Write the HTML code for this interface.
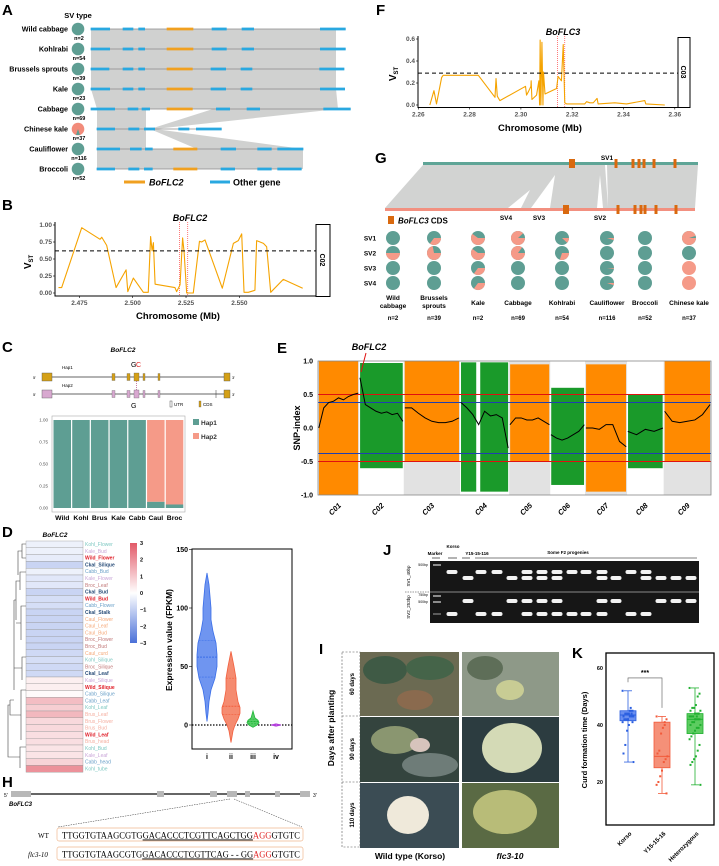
<!DOCTYPE html>
<html><head><meta charset="utf-8">
<style>
html,body{margin:0;padding:0;background:#fff;}
svg{display:block;font-family:"Liberation Sans",sans-serif;}
.pl{font-size:15px;font-weight:bold;}
.tk{font-size:6px;fill:#444;}
.b{font-weight:bold;}
</style></head><body>
<svg id="fig" width="719" height="866" viewBox="0 0 719 866" xmlns="http://www.w3.org/2000/svg">
<!-- panel letters -->
<text class="pl" x="2" y="15">A</text>
<text class="pl" x="2" y="210">B</text>
<text class="pl" x="2" y="352">C</text>
<text class="pl" x="2" y="537">D</text>
<text class="pl" x="277" y="353">E</text>
<text class="pl" x="376" y="15">F</text>
<text class="pl" x="375" y="163">G</text>
<text class="pl" x="2" y="787">H</text>
<text class="pl" x="319" y="654">I</text>
<text class="pl" x="383" y="555">J</text>
<text class="pl" x="572" y="658">K</text>

<!-- A static -->
<text x="78" y="18" font-size="7.5" font-weight="bold" text-anchor="middle">SV type</text>
<g>
<line x1="124" y1="182" x2="145" y2="182" stroke="#f0a020" stroke-width="3"/>
<text x="149" y="185.5" font-size="9" font-weight="bold" font-style="italic">BoFLC2</text>
<line x1="210" y1="182" x2="230" y2="182" stroke="#29a8e0" stroke-width="3"/>
<text x="233" y="185.5" font-size="9" font-weight="bold">Other gene</text>
</g>

<!-- B static -->
<text x="190" y="221" font-size="9" font-weight="bold" font-style="italic" text-anchor="middle">BoFLC2</text>
<text x="178" y="319" font-size="9.5" font-weight="bold" text-anchor="middle">Chromosome (Mb)</text>
<text transform="translate(31,262) rotate(-90)" font-size="10" font-weight="bold" text-anchor="middle">V<tspan font-size="6" dy="2">ST</tspan></text>
<rect x="316" y="224.5" width="14" height="72" fill="#fff" stroke="#000" stroke-width="1"/>
<text transform="translate(320,260) rotate(90)" font-size="7" font-weight="bold" text-anchor="middle">C02</text>

<!-- F static -->
<text x="563" y="35" font-size="9" font-weight="bold" font-style="italic" text-anchor="middle">BoFLC3</text>
<text x="540" y="131" font-size="9.5" font-weight="bold" text-anchor="middle">Chromosome (Mb)</text>
<text transform="translate(396,74) rotate(-90)" font-size="10" font-weight="bold" text-anchor="middle">V<tspan font-size="6" dy="2">ST</tspan></text>
<rect x="678" y="37.5" width="12" height="70" fill="#fff" stroke="#000" stroke-width="1"/>
<text transform="translate(681,72) rotate(90)" font-size="7" font-weight="bold" text-anchor="middle">C03</text>

<!-- G static -->
<g>
<polygon points="423,165 698,165 695,208 385,208" fill="#d2d3d2"/>
<polygon points="508,208 521,208 530,190" fill="#fff"/>
<polygon points="531,208 550,208 555,175" fill="#fff"/>
<polygon points="597,208 603,208 600,175" fill="#fff"/>
<polygon points="605,165 607,165 608,207" fill="#fff"/>
<line x1="423" y1="163.5" x2="698" y2="163.5" stroke="#5fa597" stroke-width="3"/>
<line x1="385" y1="209.5" x2="695" y2="209.5" stroke="#f29080" stroke-width="3"/>
</g>
<text x="607" y="160" font-size="6.5" font-weight="bold" text-anchor="middle">SV1</text>
<text x="506" y="220" font-size="6.5" font-weight="bold" text-anchor="middle">SV4</text>
<text x="539" y="220" font-size="6.5" font-weight="bold" text-anchor="middle">SV3</text>
<text x="600" y="220" font-size="6.5" font-weight="bold" text-anchor="middle">SV2</text>
<rect x="388" y="216" width="6" height="8" fill="#d9690f"/>
<text x="398" y="223.5" font-size="8" font-weight="bold"><tspan font-style="italic">BoFLC3</tspan>  CDS</text>

<!-- C static -->
<text x="123" y="352" font-size="6.5" font-weight="bold" font-style="italic" text-anchor="middle">BoFLC2</text>
<g>
<text x="62" y="369" font-size="4.5">Hap1</text>
<text x="33" y="379" font-size="4">5'</text>
<line x1="42" y1="377" x2="230" y2="377" stroke="#333" stroke-width="0.8"/>
<rect x="42" y="373" width="10" height="8" fill="#d4a017" stroke="#555" stroke-width="0.4"/>
<rect x="112" y="373.5" width="3" height="7" fill="#d4a017" stroke="#555" stroke-width="0.3"/>
<rect x="127" y="373.5" width="3" height="7" fill="#d4a017" stroke="#555" stroke-width="0.3"/>
<rect x="134" y="373" width="5" height="8" fill="#d4a017" stroke="#555" stroke-width="0.3"/>
<rect x="143" y="373.5" width="2" height="7" fill="#d4a017" stroke="#555" stroke-width="0.3"/>
<rect x="158" y="373.5" width="2" height="7" fill="#d4a017" stroke="#555" stroke-width="0.3"/>
<rect x="224" y="373" width="6" height="8" fill="#d4a017" stroke="#555" stroke-width="0.4"/>
<text x="232" y="379" font-size="4">3'</text>
<text x="131" y="367" font-size="7">G</text><text x="136" y="367" font-size="7" fill="#e02020">C</text>
<text x="62" y="387" font-size="4.5">Hap2</text>
<text x="33" y="396" font-size="4">5'</text>
<line x1="42" y1="394" x2="230" y2="394" stroke="#333" stroke-width="0.8"/>
<rect x="42" y="390" width="10" height="8" fill="#d8a8d0" stroke="#555" stroke-width="0.4"/>
<rect x="112" y="390.5" width="3" height="7" fill="#d8a8d0" stroke="#555" stroke-width="0.3"/>
<rect x="127" y="390.5" width="3" height="7" fill="#d8a8d0" stroke="#555" stroke-width="0.3"/>
<rect x="134" y="390" width="5" height="8" fill="#d8a8d0" stroke="#555" stroke-width="0.3"/>
<rect x="143" y="390.5" width="2" height="7" fill="#d8a8d0" stroke="#555" stroke-width="0.3"/>
<rect x="158" y="390.5" width="2" height="7" fill="#d8a8d0" stroke="#555" stroke-width="0.3"/>
<line x1="216" y1="390" x2="216" y2="398" stroke="#333" stroke-width="0.5"/>
<rect x="224" y="390" width="6" height="8" fill="#d4a017" stroke="#555" stroke-width="0.4"/>
<text x="232" y="396" font-size="4">3'</text>
<line x1="136.5" y1="381" x2="136.5" y2="390" stroke="#a03070" stroke-width="0.6" stroke-dasharray="1,1"/>
<text x="131" y="408" font-size="7">G</text>
<rect x="170" y="401" width="2" height="6" fill="#fff" stroke="#555" stroke-width="0.5"/>
<text x="174" y="406" font-size="4.5">UTR</text>
<rect x="199" y="401" width="2" height="6" fill="#d4a017" stroke="#555" stroke-width="0.3"/>
<text x="203" y="406" font-size="4.5">CDS</text>
</g>
<rect x="193" y="419" width="6" height="6" fill="#5e9e93"/>
<text x="201" y="425" font-size="6.5" font-weight="bold" fill="#333">Hap1</text>
<rect x="193" y="433" width="6" height="6" fill="#f59a88"/>
<text x="201" y="439" font-size="6.5" font-weight="bold" fill="#333">Hap2</text>

<!-- D static -->
<text x="55" y="537" font-size="6.5" font-weight="bold" font-style="italic" text-anchor="middle">BoFLC2</text>
<text transform="translate(172,640) rotate(-90)" font-size="8.5" font-weight="bold" text-anchor="middle">Expression value (FPKM)</text>

<!-- E static -->
<text x="369" y="350" font-size="9" font-weight="bold" font-style="italic" text-anchor="middle">BoFLC2</text>
<text transform="translate(300,428) rotate(-90)" font-size="9" font-weight="bold" text-anchor="middle">SNP-index</text>

<!-- J static -->
<g font-size="4.5" font-weight="bold">
<text x="435" y="555" text-anchor="middle">Marker</text>
<text x="453" y="548" text-anchor="middle">Korso</text>
<text x="477" y="555" text-anchor="middle">Y15-15-116</text>
<text x="568" y="554" text-anchor="middle">Some F2 progenies</text>
<line x1="432" y1="558" x2="440" y2="558" stroke="#000" stroke-width="0.6"/>
<line x1="448" y1="558" x2="457" y2="558" stroke="#000" stroke-width="0.6"/>
<line x1="462" y1="558" x2="470" y2="558" stroke="#000" stroke-width="0.6"/>
<line x1="475" y1="558" x2="697" y2="558" stroke="#000" stroke-width="0.6"/>
</g>
<rect x="430" y="561" width="269" height="62" fill="#161616"/>
<line x1="405" y1="592" x2="430" y2="592" stroke="#333" stroke-width="0.5" stroke-dasharray="1.5,1"/>
<line x1="430" y1="592" x2="699" y2="592" stroke="#fff" stroke-width="0.6"/>
<text transform="translate(410,576) rotate(-90)" font-size="4.5" text-anchor="middle">SV1_40bp</text>
<text transform="translate(410,607) rotate(-90)" font-size="4.5" text-anchor="middle">SV2_253bp</text>
<text x="428" y="566" font-size="3.5" text-anchor="end">500bp</text>
<text x="428" y="596" font-size="3.5" text-anchor="end">750bp</text>
<text x="428" y="603" font-size="3.5" text-anchor="end">500bp</text>

<!-- I static -->
<g>
<rect x="342" y="652" width="18" height="195" fill="none" stroke="#555" stroke-width="0.6" stroke-dasharray="2,1.5"/>
<line x1="342" y1="716" x2="360" y2="716" stroke="#555" stroke-width="0.6" stroke-dasharray="2,1.5"/>
<line x1="342" y1="782" x2="360" y2="782" stroke="#555" stroke-width="0.6" stroke-dasharray="2,1.5"/>
<text transform="translate(334,728) rotate(-90)" font-size="8.5" font-weight="bold" text-anchor="middle">Days after planting</text>
<text transform="translate(354,684) rotate(-90)" font-size="6" font-weight="bold" text-anchor="middle">60 days</text>
<text transform="translate(354,749) rotate(-90)" font-size="6" font-weight="bold" text-anchor="middle">90 days</text>
<text transform="translate(354,815) rotate(-90)" font-size="6" font-weight="bold" text-anchor="middle">110 days</text>
<!-- left column -->
<rect x="360" y="652" width="99" height="64" fill="#6b6a52"/>
<ellipse cx="385" cy="670" rx="22" ry="14" fill="#3f5a45"/>
<ellipse cx="430" cy="668" rx="24" ry="12" fill="#456449"/>
<ellipse cx="415" cy="700" rx="18" ry="10" fill="#8a6a4e"/>
<rect x="360" y="717" width="99" height="65" fill="#34443e"/>
<ellipse cx="395" cy="740" rx="24" ry="14" fill="#8a9670"/>
<ellipse cx="420" cy="745" rx="10" ry="7" fill="#d7c4bc"/>
<ellipse cx="430" cy="765" rx="28" ry="12" fill="#6e7c78"/>
<rect x="360" y="783" width="99" height="65" fill="#3b4c54"/>
<ellipse cx="408" cy="815" rx="21" ry="19" fill="#efe9da"/>
<!-- right column -->
<rect x="462" y="652" width="97" height="64" fill="#8e9988"/>
<ellipse cx="510" cy="690" rx="14" ry="10" fill="#c8cc94"/>
<ellipse cx="485" cy="668" rx="18" ry="12" fill="#5e6e58"/>
<rect x="462" y="717" width="97" height="65" fill="#2c3c40"/>
<ellipse cx="512" cy="748" rx="30" ry="25" fill="#d4dab6"/>
<rect x="462" y="783" width="97" height="65" fill="#5a6a44"/>
<ellipse cx="505" cy="812" rx="32" ry="22" fill="#b8bc78"/>
<text x="410" y="859" font-size="8.5" font-weight="bold" text-anchor="middle">Wild type (Korso)</text>
<text x="510" y="859" font-size="8.5" font-weight="bold" font-style="italic" text-anchor="middle">flc3-10</text>
</g>

<!-- H static -->
<g>
<text x="4" y="797" font-size="5">5'</text>
<line x1="11" y1="794" x2="310" y2="794" stroke="#333" stroke-width="1.4"/>
<rect x="11" y="791" width="20" height="6" fill="#b8b8b8"/>
<rect x="157" y="791" width="7" height="6" fill="#b8b8b8"/>
<rect x="210" y="791" width="7" height="6" fill="#b8b8b8"/>
<rect x="227" y="791" width="10" height="6" fill="#b8b8b8"/>
<rect x="245" y="791" width="5" height="6" fill="#b8b8b8"/>
<rect x="275" y="791" width="5" height="6" fill="#b8b8b8"/>
<rect x="300" y="791" width="10" height="6" fill="#b8b8b8"/>
<text x="313" y="797" font-size="5">3'</text>
<text x="9" y="806" font-size="6" font-weight="bold" font-style="italic">BoFLC3</text>
<line x1="230" y1="799" x2="58" y2="827" stroke="#333" stroke-width="0.5" stroke-dasharray="1.5,1"/>
<line x1="234" y1="799" x2="302" y2="827" stroke="#333" stroke-width="0.5" stroke-dasharray="1.5,1"/>
<rect x="57" y="828" width="246" height="13" rx="2" fill="#fff" stroke="#f0b890" stroke-width="0.7"/>
<rect x="57" y="847" width="246" height="13" rx="2" fill="#fff" stroke="#f0b890" stroke-width="0.7"/>
<text x="38" y="838" font-size="7" font-family="Liberation Serif, serif">WT</text>
<text x="28" y="857" font-size="7" font-style="italic" font-family="Liberation Serif, serif">flc3-10</text>
<text x="62" y="838.5" font-size="9" font-family="Liberation Serif, serif" textLength="238" lengthAdjust="spacingAndGlyphs">TTGGTGTAAGCGTG<tspan text-decoration="underline">GACACCCTCGTTCAGCTGG</tspan><tspan fill="#e02020">AGG</tspan>GTGTC</text>
<text x="62" y="857.5" font-size="9" font-family="Liberation Serif, serif" textLength="238" lengthAdjust="spacingAndGlyphs">TTGGTGTAAGCGTG<tspan text-decoration="underline">GACACCCTCGTTCAG - - GG</tspan><tspan fill="#e02020">AGG</tspan>GTGTC</text>
</g>

<!-- K static -->
<text transform="translate(587,740) rotate(-90)" font-size="7.5" font-weight="bold" text-anchor="middle">Curd formation time (Days)</text>
</svg>

<script>
const NS='http://www.w3.org/2000/svg';
const svg=document.getElementById('fig');
function mk(tag,attrs,parent){const e=document.createElementNS(NS,tag);for(const k in attrs)e.setAttribute(k,attrs[k]);(parent||svg).appendChild(e);return e;}

/* ============ Panel A data ============ */
const speciesA=['Wild cabbage','Kohlrabi','Brussels sprouts','Kale','Cabbage','Chinese kale','Cauliflower','Broccoli'];
const nA=[2,54,39,23,69,37,116,52];
const svTypeA=[0,0,0,0,0,1,0,0];
const tracksA=[
 [[272,330,0],[368,400,0],[415,435,0],[500,580,1],[635,680,0],[725,762,0],[960,1037,0]],
 [[272,330,0],[368,400,0],[415,435,0],[500,580,1],[635,680,0],[725,762,0],[960,1037,0]],
 [[272,328,0],[368,400,0],[415,435,0],[500,578,1],[632,678,0],[722,757,0],[958,1033,0]],
 [[272,330,0],[368,400,0],[415,435,0],[500,578,1],[632,678,0],[722,757,0],[960,1035,0]],
 [[272,345,0],[383,415,0],[425,450,0],[500,578,1],[648,690,0],[740,780,0],[970,1052,0]],
 [[290,345,0],[385,418,0],[432,465,0],[535,568,0],[588,665,0]],
 [[290,360,0],[390,425,0],[435,458,0],[520,592,1],[662,708,0],[772,815,0],[832,910,0]],
 [[290,345,0],[385,418,0],[432,458,0],[520,592,1],[662,705,0],[772,815,0],[832,905,0]]
];
const gA=mk('g',{});


const rowY=i=>29+i*20;
const bandPolys=[
 [[91,29],[336,29],[336,49],[91,49]],[[91,49],[336,49],[336,69],[91,69]],[[91,69],[336,69],[336,89],[91,89]],
 [[91,89],[336,89],[338,109],[97,109]],
 [[97,109],[146,109],[146,129],[97,129]],[[213,109],[338,109],[155,129],[150,129]],
 [[97,129],[146,129],[146,149],[97,149]],[[150,129],[155,129],[303,149],[197,149]],
 [[97,149],[303,149],[303,169],[97,169]]
];
bandPolys.forEach(p=>{const e=mk('polygon',{points:p.map(q=>q.join(',')).join(' '),fill:'#d0d1d0'},gA);

});
speciesA.forEach((s,i)=>{
 const y=rowY(i);const tr=tracksA[i];
 const ln=mk('line',{x1:tr[0][0]/3,y1:y,x2:tr[tr.length-1][1]/3,y2:y,stroke:'#8a8a8a','stroke-width':0.8},gA);
 
 
 tr.forEach(g=>{const e=mk('line',{x1:g[0]/3,y1:y,x2:g[1]/3,y2:y,stroke:g[2]?'#f0a020':'#29a8e0','stroke-width':2.8},gA);
 
 });
 const t=mk('text',{x:68,y:y+2.5,'font-size':7.2,'font-weight':'bold','text-anchor':'end'},gA);t.textContent=s;
 
 
 if(svTypeA[i]===0){const c=mk('circle',{cx:78,cy:y,r:6.3,fill:'#5e9e93'},gA);
 
 }
 else{const c=mk('circle',{cx:78,cy:y,r:6.3,fill:'#f28b7a'},gA);
 
 
 const w=mk('path',{d:`M78,${y} L76,${y+6} L80,${y+6}Z`,fill:'#5e9e93'},gA);
 
 }
 const n=mk('text',{x:79,y:y+11,'font-size':5.5,'font-weight':'bold','text-anchor':'middle'},gA);n.textContent='n='+nA[i];
 
 
});

/* ============ Panel B / F line charts ============ */
const posB=[2.4652,2.4667,2.4761,2.4847,2.4855,2.4878,2.4922,2.4969,2.4977,2.5003,2.5050,2.5073,2.5084,2.5091,2.5097,2.5105,2.5198,2.5206,2.5222,2.5234,2.5241,2.5253,2.5284,2.5313,2.5323,2.5339,2.5420,2.5472,2.5495,2.5511,2.5522,2.5542,2.5573,2.5581,2.5613,2.5628,2.5647,2.5706,2.5797];
const vstB=[0.08,0.08,0.96,0.79,0.82,0.70,0.08,0.34,0.02,0.22,0.01,0.01,0.83,0.62,0.74,0.13,0.08,0.02,0.12,0.81,0.60,0.0,0.0,0.76,0.75,0.78,0.07,0.73,0.77,0.87,0.01,0.01,0.04,0.77,0.73,0.68,0.01,0.20,0.07];
const ticksB=[2.475,2.500,2.525,2.550];
const yTicksB=[0,0.25,0.5,0.75,1.0];
const thrB=0.62;
const geneB=[2.5219,2.5258];

const posF=[2.2645,2.2661,2.2671,2.2691,2.2697,2.2834,2.2899,2.2903,2.2908,2.2918,2.3018,2.3022,2.3029,2.3039,2.3040,2.3043,2.3061,2.3070,2.3073,2.3075,2.3078,2.3082,2.3086,2.3088,2.3094,2.3139,2.3145,2.3158,2.3165,2.3171,2.3178,2.3249,2.3256,2.3269,2.3282,2.3297,2.3301,2.3366,2.3412,2.3483,2.3487,2.3561];
const vstF=[0,0.13,0.01,0.25,0.27,0.27,0.07,0.24,0.08,0.04,0.17,0.09,0.12,0.17,0.22,0.05,0.09,0.22,0.0,0.59,0.0,0.57,0.0,0.30,0.10,0.15,0.26,0.22,0.55,0.02,0.01,0.01,0.03,0.02,0.02,0.06,0.01,0.02,0.01,0.04,0.01,0.0];
const ticksF=[2.26,2.28,2.30,2.32,2.34,2.36];
const yTicksF=[0,0.2,0.4,0.6];
const thrF=0.29;
const geneF=[2.3143,2.3171];

function lineChart(o){
 const g=mk('g',{});
 
 
 const ax=mk('path',{d:`M${o.x0},${o.yTop-3} V${o.yAxis} H${o.x1}`,fill:'none',stroke:'#000','stroke-width':1},g);
 
 
 o.yt.forEach(v=>{const y=o.ys(v);
  const tl=mk('line',{x1:o.x0-2,y1:y,x2:o.x0,y2:y,stroke:'#000','stroke-width':0.6},g);
  
  
  const t=mk('text',{x:o.x0-3,y:y+2,'text-anchor':'end','font-size':6.5,'font-weight':'bold',fill:'#555'},g);t.textContent=o.yfmt(v);
  
  });
 o.xt.forEach(v=>{const x=o.xs(v);
  const tl=mk('line',{x1:x,y1:o.yAxis,x2:x,y2:o.yAxis+2,stroke:'#000','stroke-width':0.6},g);
  
  
  const t=mk('text',{x:x,y:o.yAxis+9,'text-anchor':'middle','font-size':6.5,'font-weight':'bold',fill:'#555'},g);t.textContent=o.xfmt(v);
  
  });
 o.gene.forEach(v=>{const l=mk('line',{x1:o.xs(v),y1:o.yTop-3,x2:o.xs(v),y2:o.yAxis,stroke:'#ff4040','stroke-width':0.7,'stroke-dasharray':'1,1'},g);
  
  });
 const d=o.px.map((p,i)=>(i?'L':'M')+o.xs(p).toFixed(2)+','+o.ys(o.py[i]).toFixed(2)).join(' ');
 const pl=mk('path',{d:d,fill:'none',stroke:'#f5a300','stroke-width':1.1,'stroke-linejoin':'round'},g);
 
 
 const th=mk('line',{x1:o.x0,y1:o.ys(o.thr),x2:o.x1,y2:o.ys(o.thr),stroke:'#000','stroke-width':1,'stroke-dasharray':'4,3'},g);
 
 
}
lineChart({name:'panel-b-vst-chart',x0:55,x1:316,yTop:225,yAxis:296,xs:v=>132.7+(v-2.5)*2133,ys:v=>293-v*68,
 xt:ticksB,yt:yTicksB,xfmt:v=>v.toFixed(3),yfmt:v=>v.toFixed(2),px:posB,py:vstB,thr:thrB,gene:geneB});
lineChart({name:'panel-f-vst-chart',x0:418,x1:678,yTop:39,yAxis:107.5,xs:v=>418.3+(v-2.26)/0.02*51.3,ys:v=>105-v*110,
 xt:ticksF,yt:yTicksF,xfmt:v=>v.toFixed(2),yfmt:v=>v.toFixed(1),px:posF,py:vstF,thr:thrF,gene:geneF});

/* ============ Panel G data ============ */
const speciesG=['Wild\ncabbage','Brussels\nsprouts','Kale','Cabbage','Kohlrabi','Cauliflower','Broccoli','Chinese kale'];
const nG=[2,39,2,69,54,116,52,37];
const sv1Hap2=[0,0.35,0.6,0.88,0.12,0.05,0,0.95];
const sv2Hap2=[0.5,0.72,0.6,0.85,0.3,0,0,0];
const sv3Hap2=[0,0,0.35,0,0,0.02,0,1];
const sv4Hap2=[0,0,0.35,0,0,0.05,0,1];
const cdsTop=[572,616,633,639,644,654,675];
const cdsBot=[566,618,635,641,645,656,676];
const gG=mk('g',{});


cdsTop.forEach((x,i)=>{const r=mk('rect',{x:x-(i===0?3:1.5),y:159,width:i===0?6:3,height:9,fill:'#d9690f'},gG);
 
 });
cdsBot.forEach((x,i)=>{const r=mk('rect',{x:x-(i===0?3:1.5),y:205,width:i===0?6:3,height:9,fill:'#d9690f'},gG);
 
 });
const colX=[393,434,478,518,562,607,645,689];
const pieRows=[sv1Hap2,sv2Hap2,sv3Hap2,sv4Hap2];
const pieY=[238,253,268,283];
pieRows.forEach((row,ri)=>{
 const lt=mk('text',{x:370,y:pieY[ri]+2.5,'font-size':6.5,'font-weight':'bold','text-anchor':'middle'},gG);lt.textContent='SV'+(ri+1);
 
 
 row.forEach((f,ci)=>{const cx=colX[ci],cy=pieY[ri],r=7;
  const base=mk('circle',{cx:cx,cy:cy,r:r,fill:f>=1?'#f59a88':'#5e9e93'},gG);
  
  
  if(f>0&&f<1){const a=f*2*Math.PI;const x2=cx+r*Math.cos(a),y2=cy+r*Math.sin(a);
   const w=mk('path',{d:`M${cx},${cy} L${cx+r},${cy} A${r},${r} 0 ${f>0.5?1:0} 1 ${x2.toFixed(2)},${y2.toFixed(2)} Z`,fill:'#f59a88'},gG);
   
   }
 });
});
speciesG.forEach((s,i)=>{const parts=s.split('\n');
 parts.forEach((p,k)=>{const t=mk('text',{x:colX[i],y:parts.length>1?300+k*8:305,'font-size':6.5,'font-weight':'bold','text-anchor':'middle'},gG);t.textContent=p;
  
  });
 const n=mk('text',{x:colX[i],y:320,'font-size':6,'font-weight':'bold','text-anchor':'middle'},gG);n.textContent='n='+nG[i];
 
 });

/* ============ Panel C stacked bars ============ */
const catsC=['Wild','Kohl','Brus','Kale','Cabb','Caul','Broc'];
const hap1C=[1,1,1,1,1,0.07,0.04];
const yTicksC=[0,0.25,0.5,0.75,1.0];
const gC=mk('g',{});


const yC=v=>508-v*88;
const bgC=mk('rect',{x:52,y:416,width:133,height:96,fill:'#fff',stroke:'#aaa','stroke-width':0.6},gC);


yTicksC.forEach(v=>{const t=mk('text',{x:48,y:yC(v)+1.5,'font-size':4.5,'text-anchor':'end',fill:'#555'},gC);t.textContent=v.toFixed(2);
 
 });
const bwC=131/7;
catsC.forEach((c,i)=>{const x=53+i*bwC+0.5;
 const r2=mk('rect',{x:x,y:yC(1),width:bwC-1.2,height:yC(hap1C[i])-yC(1),fill:'#f59a88'},gC);
 
 
 const r1=mk('rect',{x:x,y:yC(hap1C[i]),width:bwC-1.2,height:yC(0)-yC(hap1C[i]),fill:'#5e9e93'},gC);
 
 
 const t=mk('text',{x:x+bwC/2-0.6,y:520,'font-size':6.8,'font-weight':'bold','text-anchor':'middle'},gC);t.textContent=c;
 
 });

/* ============ Panel E SNP-index ============ */
const chrNames=['C01','C02','C03','C04','C05','C06','C07','C08','C09'];
const chrLen=[46,50,63,55,46,39,47,41,53];
const cloudTop=[1.0,0.97,1.0,0.98,0.95,0.6,0.95,0.5,1.0];
const cloudBot=[-1.0,-0.6,-0.5,-0.95,-0.5,-0.85,-0.95,-0.6,-0.5];
const smooth=[
 [0.0,0.3,0.38,0.4,0.45,0.42,0.47,0.5,0.52],
 [0.75,0.35,0.3,0.25,0.22,0.24,0.2,0.22,0.1],
 [0.3,0.3,0.22,0.15,0.1,0.08,0.08,0.1,0.15],
 [0.38,0.3,0.2,0.05,0.25,0.18,0.2,0.15,-0.3],
 [0.05,0.15,0.15,0.12,0.12,0.15,0.1,0.05],
 [-0.1,-0.15,-0.18,-0.15,-0.1,-0.05,0.05],
 [0.0,0.0,-0.02,0.05,0.05,-0.2,-0.28],
 [-0.05,-0.1,-0.02,-0.05,0.0],
 [0.25,0.1,0.08,0.1,0.12,0.2,0.35]];
const thrE99=0.5, thrE95=0.38;
const yTicksE=[-1,-0.5,0,0.5,1];
const gE=mk('g',{});


const xE0=318,xE1=711,totLen=chrLen.reduce((a,b)=>a+b,0);
const xE=mb=>xE0+mb/totLen*(xE1-xE0);
const yE=v=>428-v*67;
let cum=0;
chrNames.forEach((c,i)=>{
 const a=xE(cum),b=xE(cum+chrLen[i]);
 if(i%2===0){const bg=mk('rect',{x:a,y:yE(1),width:b-a,height:yE(-1)-yE(1),fill:'#e2e2e2'},gE);
  
  }
 const col=i%2===0?'#ff8a00':'#1a9a2a';
 const cl=mk('rect',{x:a+1,y:yE(cloudTop[i]),width:b-a-2,height:yE(cloudBot[i])-yE(cloudTop[i]),fill:col},gE);
 
 
 const t=mk('text',{transform:`translate(${(a+b)/2+3},${506}) rotate(-45)`,'font-size':7.5,'font-weight':'bold','font-style':'italic','text-anchor':'end'},gE);t.textContent=c;
 
 
 cum+=chrLen[i];
});
// C04 centromere gap
{const a=xE(46+50+63),b=xE(46+50+63+55);const gx=a+(b-a)*0.33;
 const gp=mk('rect',{x:gx,y:yE(1),width:4,height:yE(-1)-yE(1),fill:'#fff'},gE);
 
 }
[[thrE99,'#e01010'],[thrE95,'#1f3fb0'],[-thrE95,'#1f3fb0'],[-thrE99,'#e01010']].forEach(([v,c])=>{
 const l=mk('line',{x1:xE0,y1:yE(v),x2:xE1,y2:yE(v),stroke:c,'stroke-width':1},gE);
 
 });
cum=0;
chrNames.forEach((c,i)=>{const vals=smooth[i];const n=vals.length;
 const d=vals.map((v,k)=>(k?'L':'M')+xE(cum+chrLen[i]*(0.02+0.96*k/(n-1))).toFixed(2)+','+yE(v).toFixed(2)).join(' ');
 const p=mk('path',{d:d,fill:'none',stroke:'#000','stroke-width':1},gE);
 
 
 cum+=chrLen[i];});
const frE=mk('rect',{x:xE0,y:yE(1),width:xE1-xE0,height:yE(-1)-yE(1),fill:'none',stroke:'#888','stroke-width':0.8},gE);


yTicksE.forEach(v=>{const t=mk('text',{x:313,y:yE(v)+2.5,'font-size':7,'font-weight':'bold','text-anchor':'end'},gE);t.textContent=v.toFixed(1);
 
 });
const arr=mk('path',{d:'M366,353 L361,372',stroke:'#e01010','stroke-width':1,fill:'none'},gE);



/* ============ Panel D heatmap ============ */
const tissuesD=['Kohl_Flower','Kale_Bud','Wild_Flower','Ckal_Silique','Cabb_Bud','Kale_Flower','Broc_Leaf','Ckal_Bud','Wild_Bud','Cabb_Flower','Ckal_Stalk','Caul_Flower','Caul_Leaf','Caul_Bud','Broc_Flower','Broc_Bud','Caul_curd','Kohl_Silique','Broc_Silique','Ckal_Leaf','Kale_Silique','Wild_Silique','Cabb_Silique','Cabb_Leaf','Kohl_Leaf','Brus_Leaf','Brus_Flower','Brus_Bud','Wild_Leaf','Brus_head','Kohl_Bud','Kale_Leaf','Cabb_head','Kohl_tube'];
const zD=[-0.3,-0.3,-0.4,-0.9,-0.3,-0.5,-0.5,-0.9,-0.7,-0.7,-0.9,-0.9,-0.9,-0.9,-0.9,-0.9,-0.8,-0.7,-0.8,-0.8,0.3,0.3,0.1,1.2,0.9,1.3,0.7,0.7,0.6,0.6,0.5,0.5,0.8,2.0];
const legendTicksD=[3,2,1,0,-1,-2,-3];
const spColor={Kohl:'#7ec8c2',Kale:'#c9a6d8',Wild:'#e0202a',Ckal:'#2b4f7a',Cabb:'#6aa0c8',Broc:'#c27a7a',Caul:'#f5a878',Brus:'#f5b0a2'};
const gD=mk('g',{});


function zcol(z){const t=Math.max(-1,Math.min(1,z/3));
 const lo=[74,112,216],hi=[226,90,104],w=[255,255,255];
 const c=t<0?lo.map((v,k)=>Math.round(w[k]+(v-w[k])*(-t))):hi.map((v,k)=>Math.round(w[k]+(v-w[k])*t));
 return `rgb(${c[0]},${c[1]},${c[2]})`;}
const rowH=6.8;
tissuesD.forEach((t,i)=>{const y=541+i*rowH;
 const r=mk('rect',{x:26,y:y,width:57,height:rowH,fill:zcol(zD[i]),stroke:'#999','stroke-width':0.4},gD);
 
 
 const sp=t.split('_')[0];
 const tx=mk('text',{x:85,y:y+5,'font-size':5,'font-weight':(sp==='Wild'||sp==='Ckal')?'bold':'normal',fill:spColor[sp]},gD);tx.textContent=t;
 
 });
// dendrogram (schematic)
const dendro=mk('path',{d:'M26,544 H22 V558 H26 M22,551 H18 V575 M26,572 H20 V590 M20,581 H16 V620 M26,606 H21 V640 M21,623 H16 M14,600 V690 M16,600 H14 M26,657 H22 V680 M22,668 H14 M26,690 H21 V740 M21,715 H10 V700 M10,700 H14 M26,747 H20 V768 M20,757 H8 V705 H10',fill:'none',stroke:'#444','stroke-width':0.6},gD);


// colour bar
const defs=mk('defs',{});
const lg=mk('linearGradient',{id:'cbar',x1:0,y1:0,x2:0,y2:1},defs);
[[0,zcol(3)],[0.5,'#fff'],[1,zcol(-3)]].forEach(([o,c])=>mk('stop',{offset:o,'stop-color':c},lg));
const cb=mk('rect',{x:130,y:543,width:7,height:100,fill:'url(#cbar)'},gD);


legendTicksD.forEach(v=>{const y=543+(3-v)/6*100;const t=mk('text',{x:140,y:y+2,'font-size':5.5,'font-weight':'bold'},gD);t.textContent=v<0?'\u2212'+(-v):String(v);
 
 });

/* ============ Panel D violin ============ */
const groupsV=['i','ii','iii','iv'];
const profV=[
 [[3,0],[10,1],[20,2],[30,4],[40,8],[50,10],[60,10],[70,9],[80,6],[90,4],[100,4],[110,3],[120,2],[130,0]],
 [[-15,0],[-5,2],[0,4],[5,7],[10,9],[15,9],[20,7],[30,5],[40,5],[50,3],[63,0]],
 [[-2,0],[0,4],[2,6],[4,5],[6,2],[9,1],[12,0]],
 [[-1,0],[0,5],[1,0]]];
const quartV=[[41,58,72],[9,16,40],[1,3,5],[0,0,0]];
const colV=['#3a6ee8','#f2603f','#22b83a','#b23cdc'];
const fillV=['#6f95f0','#f58b70','#55cc66','#c86ae6'];
const yTicksV=[0,50,100,150];
const gV=mk('g',{});


const yV=v=>725-v*1.17;
const xV=[207,231,253,276];
const frV=mk('rect',{x:192,y:549,width:100,height:200,fill:'none',stroke:'#000','stroke-width':1},gV);


yTicksV.forEach(v=>{const t=mk('text',{x:188,y:yV(v)+2.5,'font-size':7,'font-weight':'bold','text-anchor':'end'},gV);t.textContent=v;
 
 
 const tl=mk('line',{x1:189,y1:yV(v),x2:192,y2:yV(v),stroke:'#000','stroke-width':0.6},gV);
 
 });
const zl=mk('line',{x1:192,y1:yV(0),x2:292,y2:yV(0),stroke:'#000','stroke-width':1.2,'stroke-dasharray':'1.5,1.5'},gV);


groupsV.forEach((g,i)=>{const pr=profV[i],cx=xV[i];
 const right=pr.map(p=>`${(cx+p[1]).toFixed(1)},${yV(p[0]).toFixed(1)}`);
 const left=pr.slice().reverse().map(p=>`${(cx-p[1]).toFixed(1)},${yV(p[0]).toFixed(1)}`);
 const vp=mk('polygon',{points:right.concat(left).join(' '),fill:fillV[i],stroke:colV[i],'stroke-width':0.8},gV);
 
 
 quartV[i].forEach((q,k)=>{let hw=0;for(let j=1;j<pr.length;j++){if(q<=pr[j][0]){const f=(q-pr[j-1][0])/(pr[j][0]-pr[j-1][0]);hw=pr[j-1][1]+f*(pr[j][1]-pr[j-1][1]);break;}}
  const ql=mk('line',{x1:cx-hw,y1:yV(q),x2:cx+hw,y2:yV(q),stroke:colV[i],'stroke-width':k===1?1:0.6,'stroke-dasharray':'2,1'},gV);
  
  });
 const t=mk('text',{x:cx,y:759,'font-size':7,'font-weight':'bold','text-anchor':'middle'},gV);t.textContent=g;
 
 });

/* ============ Panel J gel ============ */
const lanesJ=[452,468,481,497,512,527,542,557,572,586,602,616,631,646,661,676,691];
const sv1Up=[1,0,1,1,0,1,1,1,1,1,1,0,1,1,0,0,0];
const sv1Lo=[0,1,0,0,1,1,1,1,0,0,1,1,0,1,1,1,1];
const sv2Up=[0,1,0,0,1,1,1,1,0,0,1,1,0,0,1,1,1];
const sv2Lo=[1,0,1,1,0,1,1,1,1,1,1,0,1,1,0,0,0];
const gJ=mk('g',{});


[[565,1],[596,1],[602,1],[614,0.6]].forEach(([y,o])=>{const m=mk('rect',{x:433,y:y-0.8,width:8,height:1.6,fill:'#aaa',opacity:o},gJ);
 
 });
function bands(arr,y,name){arr.forEach((b,i)=>{if(!b)return;const r=mk('rect',{x:lanesJ[i]-5.5,y:y-2,width:11,height:4,rx:2,fill:'#f2f2f2'},gJ);
 
 });}
bands(sv1Up,572,'sv1-band-upper');bands(sv1Lo,578,'sv1-band-lower');
bands(sv2Up,601,'sv2-band-upper');bands(sv2Lo,614,'sv2-band-lower');

/* ============ Panel K box plot ============ */
const groupsK=['Korso','Y15-15-16','Heterozygous'];
const q1K=[41.5,25,37],medK=[43.5,29,42],q3K=[45,41,44],minK=[27,16,19],maxK=[52,43,53];
const ptsKorso=[52,45,45,44,44,44,43,43,43,43,42,42,42,41,41,46,40,38,33,30,27,44,45,42];
const ptsY15=[43,42,41,39,37,31,30,29,28,27,24,22,20,19,16,40];
const ptsHet=[53,51,50,47,46,46,45,45,44,44,44,43,43,43,42,42,42,41,41,40,40,39,39,38,37,36,35,33,31,29,28,27,26,19,44,43,42];
const yTicksK=[20,40,60];
const colK=['#2b5fe0','#f25a3a','#20b030'],fillK=['#6a8ff0','#f59078','#5ccc60'];
const ptsK=[ptsKorso,ptsY15,ptsHet];
const gK=mk('g',{});


const yK=v=>725-(v-40)*2.85;
const xK=[628,662,695];
const frK=mk('rect',{x:606,y:653,width:108,height:172,fill:'none',stroke:'#000','stroke-width':1.3},gK);


yTicksK.forEach(v=>{const t=mk('text',{x:603,y:yK(v)+2,'font-size':5.5,'font-weight':'bold','text-anchor':'end'},gK);t.textContent=v;
 
 });
groupsK.forEach((g,i)=>{const cx=xK[i];
 const wl=mk('line',{x1:cx,y1:yK(maxK[i]),x2:cx,y2:yK(minK[i]),stroke:colK[i],'stroke-width':0.8},gK);
 
 
 [minK[i],maxK[i]].forEach(v=>{const c=mk('line',{x1:cx-4,y1:yK(v),x2:cx+4,y2:yK(v),stroke:colK[i],'stroke-width':0.8},gK);
  
  });
 const bx=mk('rect',{x:cx-8,y:yK(q3K[i]),width:16,height:yK(q1K[i])-yK(q3K[i]),fill:fillK[i],stroke:colK[i],'stroke-width':0.8},gK);
 
 
 const md=mk('line',{x1:cx-8,y1:yK(medK[i]),x2:cx+8,y2:yK(medK[i]),stroke:colK[i],'stroke-width':1},gK);
 
 
 ptsK[i].forEach((v,k)=>{const off=((k*37)%13-6)*0.9;
  const p=mk('rect',{x:cx+off-1,y:yK(v)-1,width:2,height:2,fill:colK[i]},gK);
  
  });
 const t=mk('text',{transform:`translate(${cx+4},${834}) rotate(-45)`,'font-size':6,'font-weight':'bold','text-anchor':'end'},gK);t.textContent=g;
 
 });
const br=mk('path',{d:`M${xK[0]},${yK(55)} V${yK(56.5)} H${xK[1]} V${yK(46)}`,fill:'none',stroke:'#555','stroke-width':0.6},gK);


const st=mk('text',{x:(xK[0]+xK[1])/2,y:yK(57.5),'font-size':7,'font-weight':'bold','text-anchor':'middle'},gK);st.textContent='***';


</script>
</body></html>
